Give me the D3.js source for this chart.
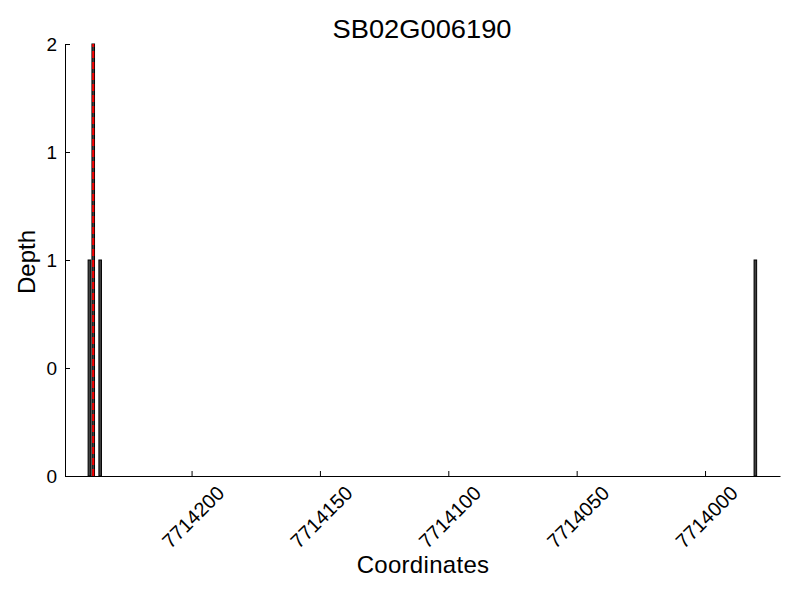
<!DOCTYPE html>
<html>
<head>
<meta charset="utf-8">
<script src="https://cdn.jsdelivr.net/npm/d3@7"></script>
<style>
  body { margin: 0; background: #fff; }
  text { font-family: "Liberation Sans", Arial, sans-serif; }
</style>
</head>
<body>
<svg id="chart" width="800" height="600"></svg>
<script>
// Data
var coords = [7714239.8, 7714238.3, 7714235.6, 7713980.4];
var depths = [1, 2, 1, 1];
var markerPos = 7714238.3;   // red dashed line
var xTicks = [7714200, 7714150, 7714100, 7714050, 7714000];
var yTicks = [0, 0.5, 1, 1.5, 2];

var width = 800, height = 600;
var margin = {top: 44, right: 20, bottom: 124, left: 65};

var svg = d3.select("#chart");

// Scales (x is reversed: coordinates decrease to the right)
var xScale = d3.scaleLinear()
  .domain([7714249.3, 7713970.8])
  .range([margin.left, width - margin.right]);
var yScale = d3.scaleLinear()
  .domain([0, 2])
  .range([height - margin.bottom, margin.top]);

var binW = 1; // bar width in coordinate units

// Bars
svg.selectAll("rect.bar")
  .data(coords)
  .enter()
  .append("rect")
    .attr("class", "bar")
    .attr("x", function(d) { return xScale(d + binW / 2); })
    .attr("width", function(d) { return xScale(d - binW / 2) - xScale(d + binW / 2); })
    .attr("y", function(d, i) { return yScale(depths[i]); })
    .attr("height", function(d, i) { return yScale(0) - yScale(depths[i]); })
    .attr("fill", "#404040")
    .attr("stroke", "#000")
    .attr("stroke-width", 1);

// Red dashed marker
svg.append("line")
  .attr("x1", xScale(markerPos))
  .attr("x2", xScale(markerPos))
  .attr("y1", yScale(0))
  .attr("y2", yScale(2))
  .style("stroke", "#ff0000")
  .style("stroke-width", 2)
  .style("stroke-dasharray", "7,4");

// Axes
var xAxis = d3.axisBottom(xScale)
  .tickValues(xTicks)
  .tickFormat(d3.format("d"))
  .tickSizeInner(-5)
  .tickSizeOuter(0);
var yAxis = d3.axisLeft(yScale)
  .tickValues(yTicks)
  .tickFormat(function(d) { return Math.floor(d); })
  .tickSizeInner(-5)
  .tickSizeOuter(0)
  .tickPadding(8);

var gx = svg.append("g")
  .attr("transform", "translate(0," + yScale(0) + ")")
  .call(xAxis);
gx.selectAll("text")
  .attr("y", null)
  .attr("dy", null)
  .attr("text-anchor", "middle")
  .attr("dominant-baseline", "central")
  .attr("transform", "translate(1,41) rotate(-45)")
  .style("font-size", "20px")
  .attr("fill", "#000");

var gy = svg.append("g")
  .attr("transform", "translate(" + margin.left + ",0)")
  .call(yAxis);
gy.selectAll("text")
  .style("font-size", "19px")
  .attr("fill", "#000");

svg.selectAll(".domain, .tick line").attr("stroke", "#000");

// Titles
svg.append("text")
  .attr("x", 422).attr("y", 38)
  .attr("text-anchor", "middle")
  .attr("textLength", 179)
  .attr("lengthAdjust", "spacingAndGlyphs")
  .style("font-size", "25px")
  .text("SB02G006190");

svg.append("text")
  .attr("x", 423).attr("y", 573)
  .attr("text-anchor", "middle")
  .style("font-size", "24px")
  .style("letter-spacing", "0.3px")
  .text("Coordinates");

svg.append("text")
  .attr("transform", "translate(35,262) rotate(-90)")
  .attr("text-anchor", "middle")
  .style("font-size", "24px")
  .text("Depth");
</script>
</body>
</html>
